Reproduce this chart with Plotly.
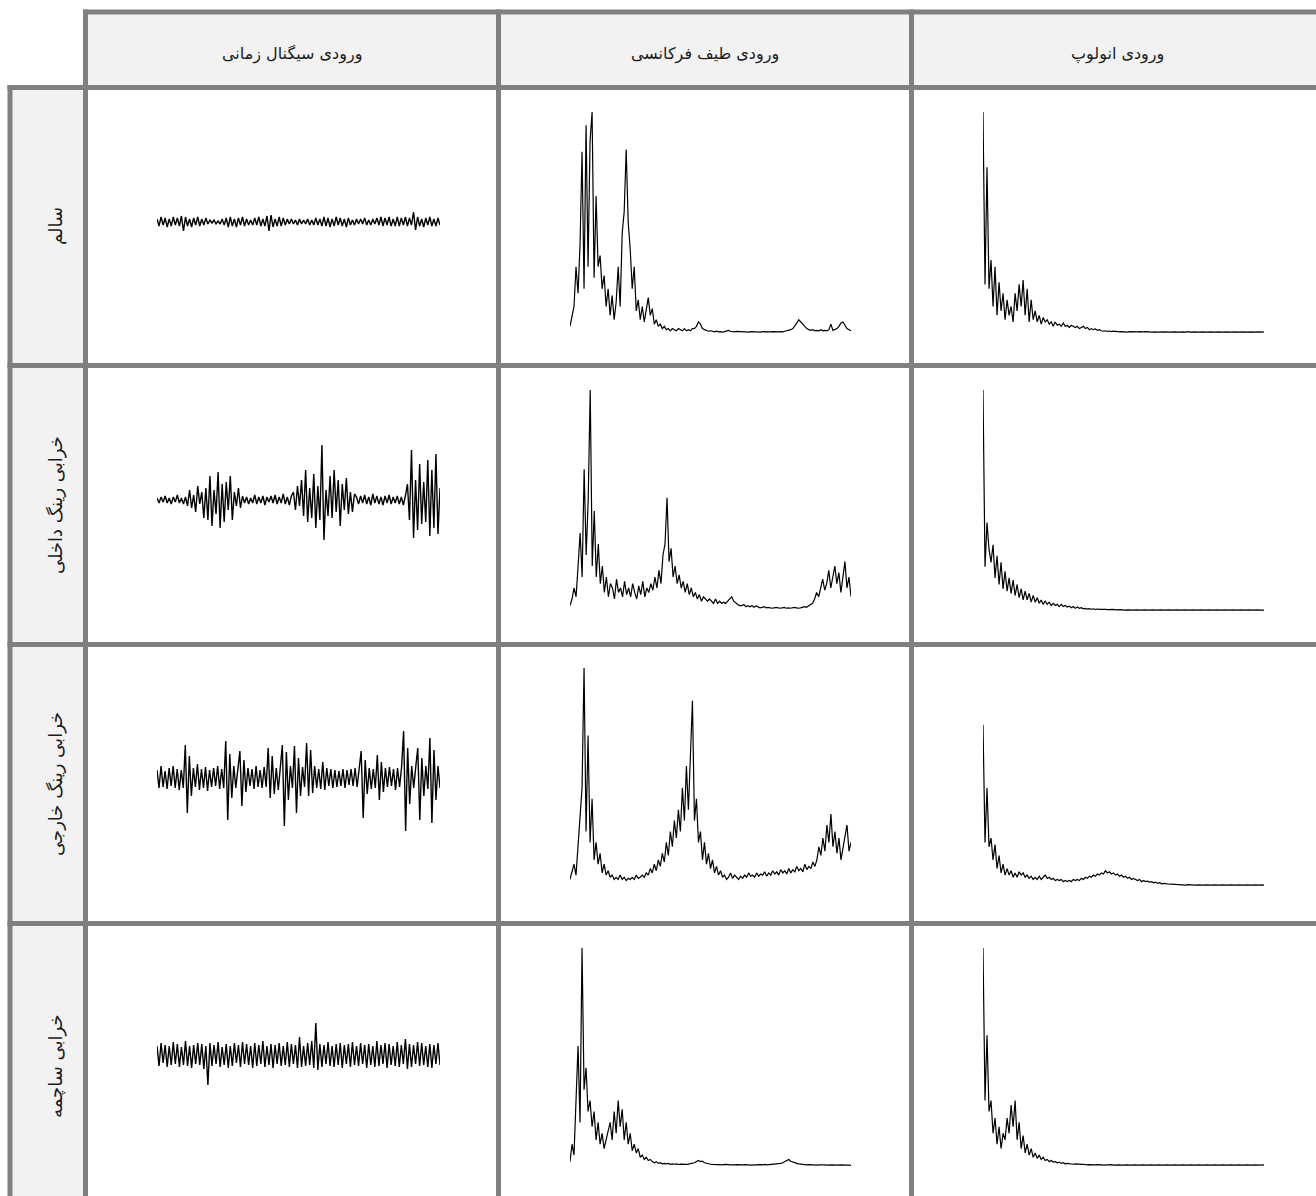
import plotly.graph_objects as go

W, H = 1316, 1196

# ---------------- text ----------------
col_labels = ["ورودی سیگنال زمانی", "ورودی طیف فرکانسی", "ورودی انولوپ"]
row_labels = ["سالم", "خرابی رینگ داخلی", "خرابی رینگ خارجی", "خرابی ساچمه"]

# ---------------- data: time-domain signals (relative amplitude) ----------------
time_healthy = [
    3, -4, 5, -3, 4, -5, 3, -4, 5, -3, 4, -4, 6, -9, 5, -4, 3, -5, 4, -3,
    5, -4, 3, -3, 4, -2, 2, -1, 2, -2, 1, -2, 3, -3, 4, -5, 5, -4, 3, -5,
    4, -3, 5, -4, 3, -3, 2, -3, 4, -3, 5, -4, 3, -4, 6, -9, 7, -5, 3, -4,
    5, -4, 4, -3, 3, -2, 3, -2, 2, -3, 3, -2, 2, -2, 3, -3, 2, -3, 4, -3,
    3, -4, 5, -4, 4, -5, 3, -4, 5, -3, 4, -4, 3, -5, 4, -3, 2, -3, 3, -2,
    3, -2, 4, -3, 2, -3, 3, -2, 4, -3, 5, -4, 4, -3, 5, -4, 3, -4, 5, -4,
    4, -3, 5, -4, 4, -3, 10, -8, 5, -4, 3, -5, 4, -3, 5, -4, 3, -4, 4, -3,
]
time_inner = [
    2, -3, 3, -2, 4, -3, 2, -4, 3, -2, 5, -3, 2, -4, 3,
    -6, 10, -8, 5, -12, 14, -4, 8, -18, 12, -20, 24, -26, 10, -14, 28, -28, 16, -22, 18, -10, 24, -20, 8, -6, 12, -8,
    4, -3, 3, -4, 2, -3, 5, -4, 3, -3, 4, -5, 3, -2, 4, -3, 5, -4, 3, -3, 6, -4, 3, -5, 4,
    8, -10, 14, -6, 20, -16, 30, -22, 12, -18, 26, -28, 14, -20, 55, -40, 10, -16, 24, -18, 30, -12, 20, -26, 16, -10, 22, -14, 8, -12, 6,
    3, -4, 4, -3, 5, -4, 3, -5, 6, -3, 4, -4, 3, -5, 4, -3, 5, -4, 3, -3, 4, -4, 3, -5, 4,
    16, -20, 50, -38, 20, -30, 36, -24, 18, -22, 40, -36, 30, -28, 46, -34, 12,
]
time_outer = [
    8, -10, 12, -9, 7, -11, 10, -8, 12, -10, 9, -12, 8, -10,
    33, -35, 22, -18,
    10, -9, 14, -12, 9, -10, 11, -13, 8, -9, 10, -8, 12, -11, 9, -10,
    37, -42, 24, -20,
    12, -10, 9,
    27, -28, 18, -14,
    10, -8, 9, -11, 12, -9, 8, -10, 11, -9,
    30, -20, 22, -16,
    10, -12, 9,
    33, -48, 26, -22,
    12, -10,
    32, -35, 20, -18,
    11, -9,
    35, -18, 28, -15,
    12, -10, 9, -11, 16, -12, 10, -8, 9, -10, 8, -9, 7, -8, 9, -10, 8, -7, 9, -8, 10, -9, 11,
    27, -40, 18, -16,
    10, -11, 9, -10,
    23, -22, 16, -14,
    10, -9, 11, -8, 9, -12, 10, -9, 11,
    47, -53, 30, -26,
    12, -10, 11,
    30, -42, 20, -18,
    12, -11,
    40, -45, 28, -22,
    12, -10,
]
time_ball = [
    9, -11, 12, -8, 10, -12, 9, -10, 13, -9, 11, -12, 8, -10, 14, -11, 9, -13, 10, -9,
    12, -10, 11, -14, 9, -30, 12, -11, 10, -9, 13, -12, 8, -10, 11, -13, 9, -11, 12, -8,
    10, -12, 13, -9, 11, -10, 9, -13, 12, -11, 10, -9, 14, -12, 9, -10, 11, -13, 10, -9,
    12, -11, 9, -10, 13, -12, 11, -9, 10, -13, 18, -12, 9, -11, 12, -10, 14, -13, 32, -15,
    11, -12, 10, -9, 13, -11, 9, -12, 11, -10, 12, -13, 10, -9, 11, -12, 13, -10, 9, -11,
    12, -9, 10, -13, 11, -10, 9, -12, 14, -11, 10, -9, 12, -13, 11, -10, 9, -11, 13, -12,
    10, -9, 16, -14, 11, -12, 10, -9, 13, -11, 12, -10, 9, -12, 11, -13, 10, -9, 12, -10,
]

# ---------------- data: frequency spectra (normalised) ----------------
spec_healthy = [
    0.03, 0.07, 0.12, 0.30, 0.18, 0.40, 0.82, 0.20, 0.94, 0.30, 0.87, 1.00,
    0.25, 0.62, 0.30, 0.35, 0.20, 0.26, 0.12, 0.20, 0.08, 0.17, 0.06, 0.14,
    0.30, 0.12, 0.45, 0.55, 0.83, 0.50, 0.38, 0.20, 0.30, 0.10, 0.15, 0.06,
    0.12, 0.05, 0.10, 0.16, 0.08, 0.11, 0.04, 0.06, 0.03, 0.04, 0.02, 0.03,
    0.015, 0.02, 0.01, 0.02, 0.015, 0.01, 0.02, 0.015, 0.01, 0.02, 0.01, 0.015,
    0.01, 0.02, 0.02, 0.03, 0.05, 0.04, 0.02, 0.015, 0.01, 0.008, 0.01, 0.006,
    0.005, 0.008, 0.005, 0.006, 0.004, 0.006, 0.01, 0.012, 0.008, 0.006, 0.005, 0.007,
    0.006, 0.005, 0.004, 0.006, 0.005, 0.004, 0.006, 0.005, 0.004, 0.006, 0.005, 0.004,
    0.006, 0.005, 0.007, 0.006, 0.005, 0.006, 0.005, 0.004, 0.005, 0.006, 0.005, 0.008,
    0.01, 0.012, 0.015, 0.02, 0.03, 0.045, 0.06, 0.05, 0.035, 0.025, 0.02, 0.015,
    0.012, 0.015, 0.01, 0.012, 0.01, 0.015, 0.01, 0.012, 0.01, 0.015, 0.04, 0.012,
    0.015, 0.02, 0.03, 0.045, 0.05, 0.035, 0.02, 0.015, 0.01,
]
spec_inner = [
    0.02, 0.05, 0.1, 0.06, 0.2,
    0.35, 0.15, 0.64, 0.25, 0.5, 1.0, 0.2, 0.45, 0.15, 0.3, 0.12,
    0.2, 0.08, 0.15, 0.06, 0.12, 0.1, 0.05, 0.14, 0.08, 0.1, 0.06, 0.13, 0.07, 0.1,
    0.06, 0.12, 0.08, 0.05, 0.11, 0.07, 0.13, 0.06, 0.1, 0.08, 0.12, 0.09, 0.15, 0.1, 0.18,
    0.12, 0.25, 0.3, 0.51, 0.22, 0.28, 0.15, 0.2, 0.12, 0.16,
    0.1, 0.13, 0.08, 0.12, 0.07, 0.1, 0.06, 0.08, 0.05, 0.07, 0.04, 0.06, 0.05, 0.04, 0.05, 0.04,
    0.03, 0.05, 0.03, 0.04, 0.03, 0.035, 0.03, 0.04, 0.05, 0.06, 0.04, 0.03, 0.025, 0.02,
    0.02, 0.025, 0.015, 0.02, 0.015, 0.02, 0.012, 0.018, 0.015, 0.01,
    0.012, 0.015, 0.01, 0.012, 0.01, 0.008, 0.01, 0.012, 0.01, 0.008,
    0.01, 0.012, 0.008, 0.01, 0.008, 0.01, 0.012, 0.01, 0.008, 0.01,
    0.012, 0.015, 0.012, 0.02, 0.025,
    0.03, 0.05, 0.08, 0.06, 0.1, 0.14, 0.09, 0.12, 0.18, 0.1,
    0.15, 0.2, 0.12, 0.17, 0.08, 0.14, 0.22, 0.1, 0.15, 0.06,
]
spec_outer = [
    0.03, 0.06, 0.1, 0.05, 0.2,
    0.3, 0.45, 1.0, 0.25, 0.69, 0.2, 0.4, 0.12,
    0.2, 0.1, 0.15, 0.06, 0.1, 0.05, 0.07, 0.04,
    0.05, 0.03, 0.04, 0.03, 0.05, 0.03, 0.04, 0.025, 0.035, 0.03, 0.04, 0.03, 0.05, 0.035, 0.04, 0.05, 0.04, 0.06,
    0.05, 0.08, 0.06, 0.1, 0.07, 0.12, 0.09, 0.15, 0.11, 0.2, 0.14, 0.25, 0.18, 0.3, 0.22, 0.35,
    0.25, 0.45, 0.3, 0.55, 0.35, 0.6, 0.85, 0.3, 0.4, 0.2,
    0.25, 0.12, 0.2, 0.1, 0.15, 0.08, 0.12, 0.06, 0.09, 0.05, 0.07,
    0.04, 0.05, 0.03, 0.04, 0.06, 0.035, 0.05, 0.04, 0.03, 0.045, 0.035, 0.05, 0.04, 0.06, 0.045,
    0.05, 0.04, 0.06, 0.045, 0.055, 0.05, 0.065, 0.045, 0.06, 0.05, 0.07, 0.055, 0.065, 0.05, 0.075, 0.06,
    0.07, 0.055, 0.08, 0.06, 0.075, 0.065, 0.09, 0.07, 0.08, 0.065, 0.1, 0.075, 0.09, 0.08, 0.11, 0.09,
    0.12, 0.18, 0.14, 0.22, 0.16, 0.28, 0.2, 0.33, 0.18, 0.25, 0.15, 0.22, 0.12, 0.18, 0.24, 0.28, 0.16, 0.2,
]
spec_ball = [
    0.02, 0.1, 0.05, 0.3,
    0.55, 0.2, 1.0, 0.35, 0.45, 0.25,
    0.3, 0.18, 0.25, 0.12, 0.2, 0.1, 0.15, 0.08, 0.12,
    0.15, 0.2, 0.12, 0.25, 0.15, 0.3, 0.18, 0.26, 0.12, 0.2, 0.1, 0.15, 0.07, 0.1,
    0.06, 0.08, 0.04, 0.05, 0.03, 0.04, 0.025, 0.03,
    0.02, 0.015, 0.02, 0.012, 0.015, 0.01, 0.012, 0.01, 0.012, 0.008,
    0.01, 0.008, 0.01, 0.007, 0.009, 0.008, 0.01, 0.007, 0.009, 0.01,
    0.012, 0.015, 0.02, 0.025, 0.02, 0.022, 0.015, 0.012, 0.01, 0.008,
    0.007, 0.006, 0.008, 0.005, 0.006, 0.005, 0.007, 0.005, 0.006, 0.005,
    0.004, 0.005, 0.006, 0.005, 0.004, 0.005, 0.006, 0.004, 0.005, 0.004,
    0.005, 0.006, 0.004, 0.005, 0.006, 0.005, 0.007, 0.005, 0.006, 0.008,
    0.007, 0.009, 0.008, 0.01, 0.012, 0.015, 0.02, 0.025, 0.03, 0.022,
    0.018, 0.015, 0.012, 0.01, 0.008, 0.007, 0.006, 0.005, 0.006, 0.005,
    0.004, 0.005, 0.004, 0.005, 0.006, 0.004, 0.005, 0.004, 0.005, 0.006,
    0.005, 0.004, 0.005, 0.006, 0.004, 0.005, 0.004, 0.005, 0.004, 0.003,
]

# ---------------- data: envelope spectra (normalised) ----------------
env_healthy = [
    1.0, 0.22, 0.75, 0.2, 0.33,
    0.12, 0.3, 0.08, 0.23, 0.1, 0.18, 0.06, 0.15,
    0.08, 0.12, 0.05, 0.18, 0.1, 0.22, 0.12, 0.24, 0.08, 0.2, 0.05, 0.15,
    0.06, 0.1, 0.05, 0.08, 0.04, 0.07, 0.05, 0.06, 0.04, 0.05,
    0.03, 0.05, 0.035, 0.04, 0.03, 0.045, 0.03, 0.035, 0.025, 0.035, 0.03, 0.025,
    0.03, 0.02, 0.025, 0.03, 0.02, 0.025, 0.015, 0.02, 0.015, 0.018, 0.012, 0.015,
    0.01, 0.008, 0.01, 0.007, 0.009, 0.006, 0.008, 0.006, 0.007, 0.005,
    0.006, 0.005, 0.006, 0.004, 0.006, 0.005, 0.007, 0.004, 0.005, 0.006,
    0.004, 0.005, 0.006, 0.004, 0.005, 0.004, 0.006, 0.005, 0.004, 0.005,
    0.006, 0.004, 0.005, 0.004, 0.005, 0.006, 0.004, 0.005, 0.004, 0.005,
    0.004, 0.005, 0.004, 0.006, 0.004, 0.005, 0.004, 0.005, 0.004, 0.005,
    0.004, 0.005, 0.004, 0.005, 0.004, 0.005, 0.004, 0.005, 0.004, 0.005,
    0.004, 0.005, 0.004, 0.005, 0.004, 0.005, 0.004, 0.005, 0.004, 0.005,
    0.004, 0.005, 0.004, 0.005, 0.004, 0.005, 0.004, 0.005, 0.004, 0.005, 0.004, 0.005,
]
env_inner = [
    1.0, 0.2, 0.4, 0.28, 0.22,
    0.3, 0.15, 0.25, 0.12, 0.22, 0.1, 0.18, 0.09, 0.15, 0.08,
    0.14, 0.07, 0.12, 0.06, 0.1, 0.05, 0.09, 0.05, 0.08, 0.04, 0.07, 0.04, 0.06, 0.035, 0.05,
    0.03, 0.045, 0.03, 0.04, 0.025, 0.035, 0.025, 0.03, 0.02, 0.03,
    0.02, 0.025, 0.018, 0.022, 0.015, 0.02, 0.012, 0.018, 0.012, 0.015,
    0.01, 0.012, 0.009, 0.011, 0.008, 0.01, 0.007, 0.009, 0.007, 0.008,
    0.006, 0.008, 0.006, 0.007, 0.005, 0.007, 0.005, 0.006, 0.005, 0.006,
    0.004, 0.005, 0.004, 0.005, 0.004, 0.005, 0.004, 0.005, 0.004, 0.005,
    0.004, 0.005, 0.004, 0.005, 0.004, 0.005, 0.004, 0.005, 0.004, 0.005,
    0.004, 0.005, 0.004, 0.005, 0.004, 0.005, 0.004, 0.005, 0.004, 0.005,
    0.004, 0.005, 0.004, 0.005, 0.004, 0.005, 0.004, 0.005, 0.004, 0.005,
    0.004, 0.005, 0.004, 0.005, 0.004, 0.005, 0.004, 0.005, 0.004, 0.005,
    0.004, 0.005, 0.004, 0.005, 0.004, 0.005, 0.004, 0.005, 0.004, 0.005,
    0.004, 0.005, 0.004, 0.005, 0.004, 0.005, 0.004, 0.005, 0.004, 0.005,
    0.004,
]
env_outer = [
    0.74, 0.2, 0.45, 0.18, 0.22,
    0.12, 0.19, 0.08, 0.14, 0.06, 0.1, 0.05, 0.08,
    0.05, 0.07, 0.04, 0.06, 0.04, 0.065, 0.05, 0.06, 0.04, 0.05, 0.035, 0.045,
    0.03, 0.04, 0.03, 0.045, 0.03, 0.04, 0.05, 0.035, 0.04, 0.03, 0.035, 0.025, 0.03, 0.025, 0.03, 0.02,
    0.025, 0.02, 0.025, 0.02, 0.03, 0.025, 0.03, 0.025, 0.035, 0.03, 0.04, 0.035, 0.045, 0.04,
    0.05, 0.045, 0.055, 0.05, 0.06, 0.055, 0.07, 0.06, 0.065, 0.055, 0.06, 0.05, 0.055, 0.045, 0.05, 0.04,
    0.045, 0.035, 0.04, 0.03, 0.035,
    0.03, 0.025, 0.03, 0.02, 0.025, 0.02, 0.022, 0.018, 0.02, 0.015,
    0.018, 0.012, 0.015, 0.01, 0.012, 0.01, 0.01, 0.008, 0.009, 0.008,
    0.006, 0.005, 0.006, 0.004, 0.005, 0.004, 0.006, 0.005, 0.004, 0.005,
    0.004, 0.005, 0.004, 0.005, 0.004, 0.005, 0.004, 0.005, 0.004, 0.005,
    0.004, 0.005, 0.004, 0.005, 0.004, 0.005, 0.004, 0.005, 0.004, 0.005,
    0.004, 0.005, 0.004, 0.005, 0.004, 0.005, 0.004, 0.005, 0.004, 0.005,
    0.004, 0.005, 0.004, 0.005, 0.004,
]
env_ball = [
    1.0, 0.3, 0.6, 0.25, 0.3,
    0.15, 0.22, 0.1, 0.18, 0.08, 0.15,
    0.12, 0.22, 0.15, 0.28, 0.18, 0.3, 0.12, 0.2, 0.08, 0.14,
    0.06, 0.1, 0.05, 0.08, 0.04, 0.06, 0.035, 0.05, 0.03, 0.04, 0.025, 0.03,
    0.02, 0.025, 0.018, 0.02, 0.015, 0.018, 0.012, 0.015, 0.01, 0.012, 0.01, 0.011, 0.008, 0.01, 0.008, 0.009, 0.007, 0.008,
    0.006, 0.005, 0.006, 0.005, 0.004, 0.005, 0.006, 0.004, 0.005, 0.004,
    0.005, 0.004, 0.005, 0.006, 0.004, 0.005, 0.004, 0.005, 0.004, 0.005,
    0.004, 0.005, 0.004, 0.005, 0.004, 0.005, 0.004, 0.005, 0.004, 0.005,
    0.004, 0.005, 0.004, 0.005, 0.004, 0.005, 0.004, 0.005, 0.004, 0.005,
    0.004, 0.005, 0.004, 0.005, 0.004, 0.005, 0.004, 0.005, 0.004, 0.005,
    0.004, 0.005, 0.004, 0.005, 0.004, 0.005, 0.004, 0.005, 0.004, 0.005,
    0.004, 0.005, 0.004, 0.005, 0.004, 0.005, 0.004, 0.005, 0.004, 0.005,
    0.004, 0.005, 0.004, 0.005, 0.004, 0.005, 0.004, 0.005, 0.004, 0.005,
    0.004, 0.005, 0.004, 0.005, 0.004, 0.005, 0.004, 0.005, 0.004, 0.005,
]

time_series = [time_healthy, time_inner, time_outer, time_ball]
spec_series = [spec_healthy, spec_inner, spec_outer, spec_ball]
env_series = [env_healthy, env_inner, env_outer, env_ball]

# ---------------- layout geometry (pixels) ----------------
GRID = "#808080"
LW = 5
x_left_outer, x_rowhdr, x_c1, x_c2 = 10, 85.5, 498.5, 911.5
y_top, y_hdr = 12, 87.5
row_lines = [365.5, 644.5, 923.5]
row_text_y = [226, 505, 784, 1066]
col_text_x = [292, 705, 1117]

time_box = (157, 440)
time_centers = [222, 500, 778, 1055]
time_half = 60

spec_box = (570, 851)
spec_base = [333, 610, 886, 1166]
spec_top = [112, 390, 668, 948]

env_box = (983, 1264)
env_base = [333, 611, 886, 1166]
env_top = [112, 390, 668, 948]


def fx(p):
    return p / W


def fy(p):
    return 1 - p / H


fig = go.Figure()
axis_no = 0


def add_panel(values, xbox, y_lo_px, y_hi_px, yrange, lw):
    global axis_no
    axis_no += 1
    k = axis_no
    xs = list(range(len(values)))
    fig.add_trace(go.Scatter(
        x=xs, y=values, mode="lines",
        line=dict(color="black", width=lw),
        xaxis=f"x{k}", yaxis=f"y{k}", hoverinfo="skip", showlegend=False,
    ))
    xa = dict(domain=[fx(xbox[0]), fx(xbox[1])], range=[0, len(values) - 1],
              visible=False, anchor=f"y{k}", fixedrange=True)
    ya = dict(domain=[fy(y_lo_px), fy(y_hi_px)], range=yrange,
              visible=False, anchor=f"x{k}", fixedrange=True)
    fig.update_layout(**{f"xaxis{k}" if k > 1 else "xaxis": xa,
                         f"yaxis{k}" if k > 1 else "yaxis": ya})


pad = 0.04
for r in range(4):
    c = time_centers[r]
    add_panel(time_series[r], time_box, c + time_half, c - time_half, [-time_half, time_half], 1.4)
    h = spec_base[r] - spec_top[r]
    add_panel(spec_series[r], spec_box, spec_base[r] + pad * h, spec_top[r] - pad * h, [-pad, 1 + pad], 1.2)
    h = env_base[r] - env_top[r]
    add_panel(env_series[r], env_box, env_base[r] + pad * h, env_top[r] - pad * h, [-pad, 1 + pad], 1.2)

# ---------------- table shapes ----------------
shapes = []
shapes.append(dict(type="rect", xref="paper", yref="paper", layer="below",
                   x0=fx(x_rowhdr), x1=fx(W + 5), y0=fy(y_hdr), y1=fy(y_top),
                   fillcolor="#f2f2f2", line=dict(width=0)))
shapes.append(dict(type="rect", xref="paper", yref="paper", layer="below",
                   x0=fx(x_left_outer), x1=fx(x_rowhdr), y0=fy(H + 5), y1=fy(y_hdr),
                   fillcolor="#f2f2f2", line=dict(width=0)))


def hline(y, x0, x1):
    shapes.append(dict(type="line", xref="paper", yref="paper", layer="below",
                       x0=fx(x0), x1=fx(x1), y0=fy(y), y1=fy(y),
                       line=dict(color=GRID, width=LW)))


def vline(x, y0, y1):
    shapes.append(dict(type="line", xref="paper", yref="paper", layer="below",
                       x0=fx(x), x1=fx(x), y0=fy(y0), y1=fy(y1),
                       line=dict(color=GRID, width=LW)))


hline(y_top, x_rowhdr - 2.5, W + 5)
hline(y_hdr, x_left_outer - 2.5, W + 5)
for yl in row_lines:
    hline(yl, x_left_outer - 2.5, W + 5)
vline(x_left_outer, y_hdr - 2.5, H + 5)
vline(x_rowhdr, y_top - 2.5, H + 5)
vline(x_c1, y_top - 2.5, H + 5)
vline(x_c2, y_top - 2.5, H + 5)

# ---------------- labels ----------------
annotations = []
HFONT = dict(family="DejaVu Sans", size=16, color="#1a1a1a")
RFONT = dict(family="DejaVu Sans", size=18, color="#1a1a1a")
for i, t in enumerate(col_labels):
    annotations.append(dict(text=t, x=fx(col_text_x[i]), y=fy(54), xref="paper", yref="paper",
                            showarrow=False, xanchor="center", yanchor="middle", font=HFONT))
for i, t in enumerate(row_labels):
    annotations.append(dict(text=t, x=fx(56), y=fy(row_text_y[i]), xref="paper", yref="paper",
                            showarrow=False, xanchor="center", yanchor="middle", textangle=-90,
                            font=RFONT))

fig.update_layout(
    width=W, height=H,
    margin=dict(l=0, r=0, t=0, b=0),
    paper_bgcolor="white", plot_bgcolor="rgba(0,0,0,0)",
    shapes=shapes, annotations=annotations, showlegend=False,
)

fig.write_html(
    "out.html",
    config={"displayModeBar": False, "staticPlot": True},
    post_script="document.body.style.margin='0px';document.body.style.overflow='hidden';",
)
